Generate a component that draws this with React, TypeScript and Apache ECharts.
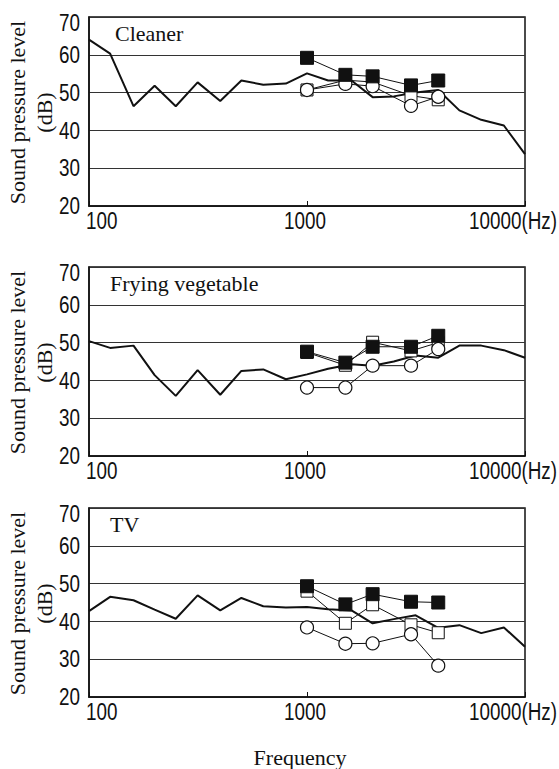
import React, { useEffect, useRef } from "react";
import * as echarts from "echarts";

// 1/3-octave band centre frequencies (Hz) for the room-noise line
const BAND_FREQS = [100, 125, 160, 200, 250, 315, 400, 500, 630, 800, 1000, 1250, 1600, 2000, 2500, 3150, 4000, 5000, 6300, 8000, 10000];
// Frequencies of the marker series (Hz)
const MARKER_FREQS = [1000, 1500, 2000, 3000, 4000];

const PANEL_TITLES = ["Cleaner", "Frying vegetable", "TV"];

// Line (background noise spectrum), dB
const cleanerLine = [64.0, 60.3, 46.4, 51.8, 46.4, 52.7, 47.8, 53.2, 52.1, 52.4, 55.1, 53.2, 53.2, 48.8, 49.0, 50.0, 50.7, 45.3, 42.8, 41.3, 33.7];
const fryingLine = [50.4, 48.6, 49.2, 41.4, 35.9, 42.7, 36.2, 42.5, 42.9, 40.3, 41.6, 43.1, 44.3, 43.9, 45.0, 46.6, 46.0, 49.2, 49.2, 48.0, 46.0];
const tvLine = [42.7, 46.5, 45.6, 43.1, 40.7, 46.9, 42.9, 46.2, 44.0, 43.7, 43.8, 43.2, 42.9, 39.5, 40.6, 41.6, 38.3, 39.0, 36.9, 38.4, 33.3];

// Marker series, dB
const cleanerFilledSq = [59.2, 54.7, 54.3, 51.9, 53.2];
const cleanerOpenSq = [50.7, 53.3, 52.8, 49.2, 48.1];
const cleanerCircle = [50.7, 52.3, 51.7, 46.5, 48.9];

const fryingFilledSq = [47.6, 44.7, 48.9, 48.9, 51.8];
const fryingOpenSq = [47.4, 44.0, 50.1, 47.8, 50.0];
const fryingCircle = [38.1, 38.1, 43.9, 43.9, 48.3];

const tvFilledSq = [49.3, 44.5, 47.2, 45.2, 45.0];
const tvOpenSq = [48.0, 39.5, 44.4, 39.1, 37.0];
const tvCircle = [38.4, 34.1, 34.2, 36.6, 28.3];

const Y_TICKS = [20, 30, 40, 50, 60, 70];
const X_TICKS = [100, 1000, 10000];
const X_TICK_LABELS = ["100", "1000", "10000(Hz)"];

const PANELS = [
  { title: PANEL_TITLES[0], line: cleanerLine, filled: cleanerFilledSq, open: cleanerOpenSq, circle: cleanerCircle },
  { title: PANEL_TITLES[1], line: fryingLine, filled: fryingFilledSq, open: fryingOpenSq, circle: fryingCircle },
  { title: PANEL_TITLES[2], line: tvLine, filled: tvFilledSq, open: tvOpenSq, circle: tvCircle },
];

// layout
const GRID_LEFT = 89;
const GRID_WIDTH = 436;
const GRID_TOPS = [17, 267, 508];
const GRID_HEIGHT = 189;

const SERIF = "'Liberation Serif', 'Times New Roman', serif";
const SANS = "'Liberation Sans', Arial, sans-serif";
const NARROW_SCALE = 0.82;

const pairs = (xs: number[], ys: number[]) => xs.map((x, i) => [x, ys[i]]);

export default function App() {
  const ref = useRef<HTMLDivElement>(null);

  useEffect(() => {
    if (!ref.current) return;
    const chart = echarts.init(ref.current, null, { renderer: "svg" });

    const grids: any[] = [];
    const xAxes: any[] = [];
    const yAxes: any[] = [];
    const series: any[] = [];

    PANELS.forEach((p, i) => {
      grids.push({
        left: GRID_LEFT,
        top: GRID_TOPS[i],
        width: GRID_WIDTH,
        height: GRID_HEIGHT,
        show: true,
        borderColor: "#111",
        borderWidth: 1.5,
        backgroundColor: "#fff",
      });
      xAxes.push({
        type: "log",
        logBase: 10,
        gridIndex: i,
        min: X_TICKS[0],
        max: X_TICKS[X_TICKS.length - 1],
        axisLine: { show: true, lineStyle: { color: "#111", width: 1.5 } },
        axisTick: { show: true, inside: true, length: 5, lineStyle: { color: "#111", width: 1 } },
        axisLabel: { show: false },
        splitLine: { show: false },
        minorTick: { show: false },
      });
      yAxes.push({
        type: "value",
        gridIndex: i,
        min: Y_TICKS[0],
        max: Y_TICKS[Y_TICKS.length - 1],
        interval: 10,
        axisLine: { show: true, lineStyle: { color: "#111", width: 1.5 } },
        axisTick: { show: false },
        axisLabel: { show: false },
        splitLine: { show: true, lineStyle: { color: "#333", width: 1.1 } },
      });

      series.push({
        type: "line",
        xAxisIndex: i,
        yAxisIndex: i,
        data: pairs(BAND_FREQS, p.line),
        symbol: "none",
        lineStyle: { color: "#111", width: 2 },
        z: 2,
      });
      series.push({
        type: "line",
        xAxisIndex: i,
        yAxisIndex: i,
        data: pairs(MARKER_FREQS, p.open),
        symbol: "rect",
        symbolSize: 12,
        showAllSymbol: true,
        itemStyle: { color: "#fff", borderColor: "#111", borderWidth: 1 },
        lineStyle: { color: "#111", width: 1 },
        z: 3,
      });
      series.push({
        type: "line",
        xAxisIndex: i,
        yAxisIndex: i,
        data: pairs(MARKER_FREQS, p.circle),
        symbol: "circle",
        symbolSize: 13,
        showAllSymbol: true,
        itemStyle: { color: "#fff", borderColor: "#111", borderWidth: 1.2 },
        lineStyle: { color: "#111", width: 1 },
        z: 4,
      });
      series.push({
        type: "line",
        xAxisIndex: i,
        yAxisIndex: i,
        data: pairs(MARKER_FREQS, p.filled),
        symbol: "rect",
        symbolSize: 13,
        showAllSymbol: true,
        itemStyle: { color: "#111", borderColor: "#111", borderWidth: 1 },
        lineStyle: { color: "#111", width: 1 },
        z: 5,
      });
    });

    chart.setOption({
      animation: false,
      backgroundColor: "#fff",
      grid: grids,
      xAxis: xAxes,
      yAxis: yAxes,
      series,
    });

    // Texts placed from the axes' own scales
    const graphics: any[] = [];
    PANELS.forEach((p, i) => {
      const finder = { gridIndex: i };
      const top = GRID_TOPS[i];
      // y tick labels
      Y_TICKS.forEach((v, k) => {
        const pt = chart.convertToPixel(finder, [X_TICKS[0], v]) as number[];
        const isTop = k === Y_TICKS.length - 1;
        graphics.push({
          type: "text",
          x: pt[0] - 9,
          y: isTop ? pt[1] + 6 : pt[1],
          scaleX: NARROW_SCALE,
          style: { text: String(v), font: `23px ${SANS}`, fill: "#111", align: "right", verticalAlign: "middle" },
        });
      });
      // x tick labels
      X_TICKS.forEach((f, k) => {
        const pt = chart.convertToPixel(finder, [f, Y_TICKS[0]]) as number[];
        let x = pt[0];
        let align = "center";
        if (k === 0) { x = pt[0] - 3; align = "left"; }
        else if (k === 1) { x = pt[0] - 2; }
        else { x = pt[0] + 32; align = "right"; }
        graphics.push({
          type: "text",
          x,
          y: pt[1] + 15,
          scaleX: NARROW_SCALE,
          style: { text: X_TICK_LABELS[k], font: `23px ${SANS}`, fill: "#111", align, verticalAlign: "middle" },
        });
      });
      // panel title
      graphics.push({
        type: "text",
        x: GRID_LEFT + 26 - (i > 0 ? 5 : 0),
        y: top + 16,
        z: 10,
        style: { text: p.title, font: `22px ${SERIF}`, fill: "#111", align: "left", verticalAlign: "middle" },
      });
      // y axis title
      graphics.push({
        type: "text",
        x: 31,
        y: top + GRID_HEIGHT / 2 + 1,
        rotation: Math.PI / 2,
        style: {
          text: "Sound pressure level\n(dB)",
          font: `22px ${SERIF}`,
          lineHeight: 27,
          fill: "#111",
          align: "center",
          verticalAlign: "middle",
        },
      });
    });

    graphics.push({
      type: "text",
      x: 300,
      y: 757,
      style: { text: "Frequency", font: `22px ${SERIF}`, fill: "#111", align: "center", verticalAlign: "middle" },
    });

    chart.setOption({ graphic: graphics });

    return () => chart.dispose();
  }, []);

  return (
    <div
      ref={ref}
      style={{ position: "absolute", left: 0, top: 0, width: 559, height: 769 }}
    />
  );
}
